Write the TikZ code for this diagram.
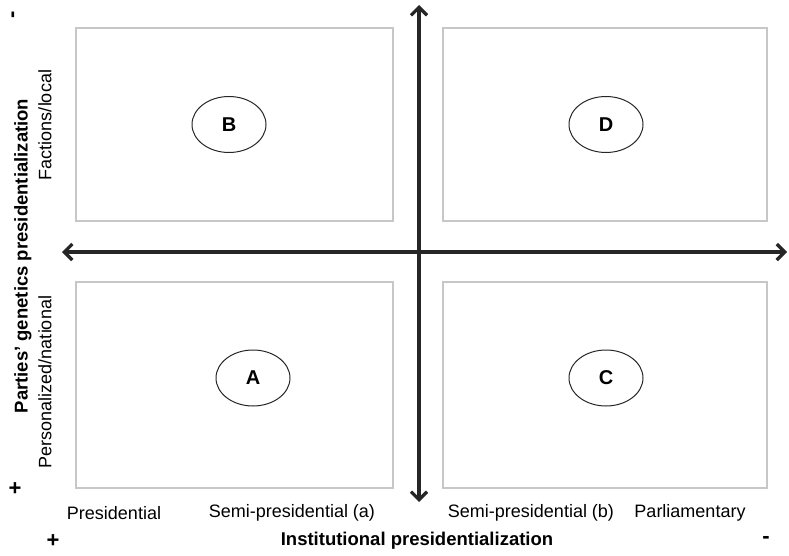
\documentclass[tikz,border=0pt]{standalone}
\usepackage{fontspec}
\setmainfont{Liberation Sans}
\usetikzlibrary{arrows.meta,shapes.geometric}
\tikzset{
  quadbox/.style={draw=black!22, line width=1.2pt, inner sep=0pt},
  group/.style={ellipse, draw=black!85, line width=1pt, minimum width=74pt, minimum height=56pt, inner sep=0pt, font=\fontsize{20}{22}\selectfont\bfseries},
  axis/.style={line width=3.2pt, draw=black!85, {Straight Barb[length=8pt,width=16pt]}-{Straight Barb[length=8pt,width=16pt]}},
  ticklabel/.style={font=\fontsize{18}{20}\selectfont},
  axistitle/.style={font=\fontsize{18.5}{21}\selectfont\bfseries},
  sign/.style={inner sep=0pt, font=\fontsize{22}{22}\selectfont\bfseries},
}
\begin{document}
\begin{tikzpicture}[x=1pt, y=-1pt]
			%%%%% START %%%%%
			\useasboundingbox (0, 0) rectangle (789, 556);
			
			% quadrants
			\node[quadbox, minimum width=317pt, minimum height=193pt] (boxB) at (234.5, 124.5) {};
			\node[quadbox, minimum width=324pt, minimum height=193pt] (boxD) at (605, 124.5) {};
			\node[quadbox, minimum width=317pt, minimum height=206pt] (boxA) at (234.5, 385) {};
			\node[quadbox, minimum width=324pt, minimum height=206pt] (boxC) at (605, 385) {};
			
			\node[group] (B) at (229, 124.5) {B};
			\node[group] (D) at (606, 124.5) {D};
			\node[group] (A) at (253, 378) {A};
			\node[group] (C) at (606, 378) {C};
			
			% axes
			\coordinate (top) at (419, 5);
			\coordinate (bottom) at (419, 502);
			\coordinate (left) at (62, 252);
			\coordinate (right) at (787, 252);
			\draw[axis] (bottom) -- (top);
			\draw[axis] (left) -- (right);
			
			% horizontal labels
			\node[ticklabel] (pres) at (114, 513) {Presidential};
			\node[ticklabel] (semia) at (292, 513) {Semi-presidential (a)};
			\node[ticklabel] (semib) at (531, 513) {Semi-presidential (b)};
			\node[ticklabel] (parl) at (690, 513) {Parliamentary};
			\node[axistitle] (xtitle) at (417, 541) {Institutional presidentialization};
			\node[sign] (xplus) at (53, 541) {+};
			\node[sign] (xminus) at (766, 540) {-};
			
			% vertical labels
			\node[ticklabel, rotate=90] (local) at (45, 125) {Factions/local};
			\node[ticklabel, rotate=90] (national) at (45, 382) {Personalized/national};
			\node[axistitle, rotate=90] (ytitle) at (23, 256) {Parties' genetics presidentialization};
			\node[sign] (yplus) at (15, 489) {+};
			\node[sign, rotate=90] (yminus) at (15, 15) {-};
			
			%%%%% END %%%%%
\end{tikzpicture}
\end{document}
